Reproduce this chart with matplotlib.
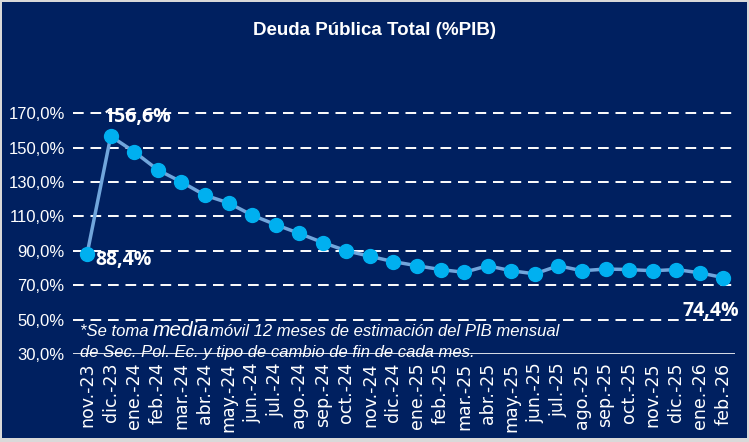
import matplotlib
matplotlib.use("Agg")
import matplotlib.pyplot as plt
from matplotlib.patches import Rectangle

# data
months = ['nov.-23', 'dic.-23', 'ene.-24', 'feb.-24', 'mar.-24', 'abr.-24', 'may.-24',
          'jun.-24', 'jul.-24', 'ago.-24', 'sep.-24', 'oct.-24', 'nov.-24', 'dic.-24',
          'ene.-25', 'feb.-25', 'mar.-25', 'abr.-25', 'may.-25', 'jun.-25', 'jul.-25',
          'ago.-25', 'sep.-25', 'oct.-25', 'nov.-25', 'dic.-25', 'ene.-26', 'feb.-26']
deuda = [88.4, 156.6, 147.5, 137.0, 130.0, 122.3, 117.8, 110.7, 105.2, 100.1, 94.8,
         90.0, 86.8, 83.7, 81.3, 79.1, 77.5, 81.3, 78.4, 76.6, 81.3, 78.4, 79.4,
         79.1, 78.4, 79.1, 77.2, 74.4]
yticks = [30, 50, 70, 90, 110, 130, 150, 170]
labeled = {0: '88,4%', 1: '156,6%', 27: '74,4%'}

NAVY = '#002060'
NARROW = ['Liberation Sans', 'DejaVu Sans']

fig = plt.figure(figsize=(7.49, 4.42), dpi=100, facecolor='#d9d9d9')
fig.patches.append(Rectangle((2 / 749, 4 / 442), 745 / 749, 436 / 442,
                             transform=fig.transFigure, facecolor=NAVY,
                             edgecolor='none', zorder=-5))

ax = fig.add_axes([0.0975, 0.199, 0.884, 0.584])
ax.patch.set_alpha(0)

x = list(range(len(months)))
ax.plot(x, deuda, color='#71a6dc', lw=2.5, zorder=3)
ax.plot(x, deuda, 'o', color='#00b0f0', ms=10, mec='#00b0f0', zorder=4)

ax.set_xlim(-0.6, 27.5)
ax.set_ylim(30, 180)

for v in yticks[1:]:
    ax.axhline(v, color='white', lw=1.4, ls=(0, (5.5, 3.5)), zorder=1)
ax.axhline(30, color='white', lw=1.2, zorder=1)

ax.set_yticks(yticks)
ax.set_yticklabels([f'{v},0%' for v in yticks], color='white', fontsize=12,
                   family=NARROW)
ax.set_xticks(x)
ax.set_xticklabels(months, rotation=90, color='white', fontsize=12.5,
                   family='DejaVu Sans')
ax.tick_params(length=0, pad=6)
for s in ax.spines.values():
    s.set_visible(False)

# data labels
offs = {0: (6, -4.5, 'left'), 1: (19.5, 13.5, 'center'), 27: (11, -24, 'right')}
for i, txt in labeled.items():
    dx, dy, ha = offs[i]
    ax.annotate(txt, (x[i], deuda[i]), xytext=(dx, dy), textcoords='offset points',
                ha=ha, va='center', color='white', fontsize=14, fontweight='bold',
                family=['Open Sans', 'DejaVu Sans'])

fig.text(0.5, 0.932, 'Deuda Pública Total (%PIB)', ha='center', va='center',
         color='white', fontsize=13.5, fontweight='bold', family=NARROW)

# footnote, pieced together so "media" can be bigger
fig.canvas.draw()
r = fig.canvas.get_renderer()
x0 = 80 / 749
y1 = 1 - 331 / 442
parts = [('*Se toma ', 12), ('media', 15), ('móvil 12 meses de estimación del PIB mensual', 12)]
for s, fs in parts:
    t = fig.text(x0, y1, s, ha='left', va='center', color='white', fontsize=fs,
                 style='italic', family=NARROW)
    bb = t.get_window_extent(r)
    x0 = bb.x1 / 749
fig.text(80 / 749, 1 - 353 / 442, 'de Sec. Pol. Ec. y tipo de cambio de fin de cada mes.',
         ha='left', va='center', color='white', fontsize=12, style='italic',
         family=NARROW)

fig.savefig('out.png', dpi=100, facecolor=fig.get_facecolor())
